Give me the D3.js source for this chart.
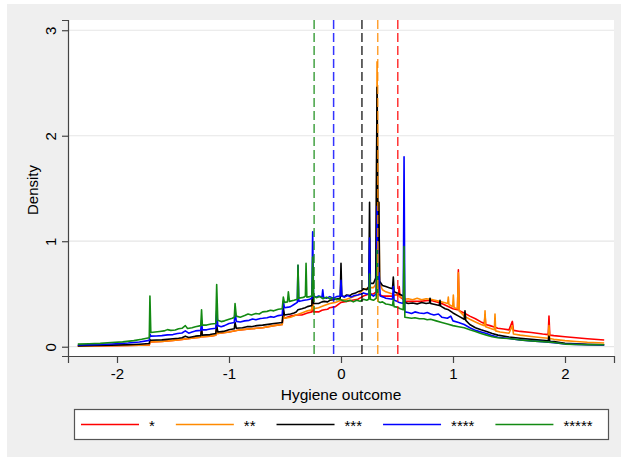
<!DOCTYPE html>
<html>
<head>
<meta charset="utf-8">
<script src="https://cdn.jsdelivr.net/npm/d3@7"></script>
<style>
  body { margin: 0; background: #ffffff; }
  text { font-family: Arial, "Liberation Sans", sans-serif; fill: #000; }
</style>
</head>
<body>
<div id="chart_area"></div>
<script>
var W = 621, H = 457;
var margin = { top: 20, right: 7, bottom: 101, left: 68 },
    width = W - margin.left - margin.right,
    height = H - margin.top - margin.bottom;

// series labels + colours (plot order)
var seriesNames = ["*", "**", "***", "****", "*****"];
var colours = ["#ff0000", "#ff8a00", "#000000", "#0000ff", "#138a13"];

// density curves, [x, density]
var red = [[-2.35,0.006],[-2.2,0.008],[-2.05,0.01],[-1.9,0.012],[-1.8,0.014],[-1.712,0.016],[-1.706,0.045],[-1.6,0.05],[-1.5,0.06],[-1.42,0.07],[-1.3,0.085],[-1.252,0.09],[-1.245,0.17],[-1.238,0.095],[-1.17,0.1],[-1.118,0.11],[-1.11,0.19],[-1.1,0.125],[-1.0,0.14],[-0.9,0.16],[-0.8,0.17],[-0.7,0.18],[-0.6,0.2],[-0.525,0.21],[-0.515,0.32],[-0.505,0.27],[-0.45,0.29],[-0.4,0.3],[-0.35,0.3],[-0.3,0.32],[-0.26,0.33],[-0.253,0.5],[-0.245,0.33],[-0.2,0.33],[-0.17,0.345],[-0.15,0.35],[-0.12,0.355],[-0.1,0.37],[-0.05,0.38],[0.0,0.42],[0.05,0.43],[0.1,0.44],[0.15,0.45],[0.2,0.48],[0.25,0.5],[0.29,0.5],[0.315,0.52],[0.322,0.8],[0.33,0.5],[0.37,0.48],[0.4,0.48],[0.46,0.48],[0.513,0.5],[0.52,0.57],[0.527,0.47],[0.556,0.45],[0.57,0.43],[0.62,0.43],[0.7,0.43],[0.8,0.44],[0.9,0.41],[1.0,0.36],[1.04,0.35],[1.048,0.73],[1.056,0.34],[1.1,0.32],[1.15,0.29],[1.2,0.265],[1.25,0.235],[1.28,0.22],[1.286,0.3],[1.292,0.21],[1.33,0.2],[1.375,0.185],[1.4,0.175],[1.45,0.168],[1.5,0.16],[1.53,0.24],[1.54,0.155],[1.6,0.145],[1.7,0.135],[1.8,0.12],[1.85,0.115],[1.857,0.29],[1.864,0.11],[1.9,0.105],[2.0,0.095],[2.1,0.085],[2.2,0.075],[2.35,0.063]];

var orange = [[-2.35,0.006],[-2.2,0.008],[-2.05,0.01],[-1.9,0.012],[-1.8,0.014],[-1.712,0.016],[-1.706,0.045],[-1.6,0.05],[-1.5,0.06],[-1.42,0.07],[-1.3,0.085],[-1.252,0.09],[-1.245,0.16],[-1.238,0.095],[-1.17,0.1],[-1.118,0.11],[-1.11,0.19],[-1.1,0.125],[-1.0,0.14],[-0.9,0.16],[-0.8,0.17],[-0.7,0.18],[-0.6,0.2],[-0.525,0.21],[-0.515,0.3],[-0.505,0.27],[-0.45,0.28],[-0.4,0.3],[-0.35,0.32],[-0.3,0.34],[-0.26,0.35],[-0.253,0.63],[-0.245,0.36],[-0.2,0.37],[-0.15,0.39],[-0.1,0.41],[-0.05,0.42],[0.0,0.44],[0.05,0.45],[0.1,0.47],[0.15,0.49],[0.2,0.54],[0.25,0.56],[0.29,0.56],[0.315,0.6],[0.322,2.7],[0.33,1.2],[0.338,1.37],[0.345,0.6],[0.37,0.54],[0.4,0.52],[0.46,0.5],[0.52,0.48],[0.556,0.46],[0.57,0.45],[0.6,0.455],[0.64,0.445],[0.68,0.46],[0.72,0.445],[0.76,0.455],[0.8,0.45],[0.84,0.44],[0.88,0.43],[0.92,0.42],[0.952,0.41],[0.958,0.47],[0.964,0.4],[0.997,0.38],[1.003,0.49],[1.01,0.37],[1.04,0.36],[1.048,0.7],[1.056,0.34],[1.1,0.29],[1.15,0.26],[1.2,0.235],[1.25,0.21],[1.28,0.2],[1.286,0.34],[1.292,0.19],[1.33,0.175],[1.369,0.16],[1.375,0.31],[1.381,0.15],[1.42,0.14],[1.5,0.128],[1.53,0.2],[1.54,0.12],[1.6,0.11],[1.7,0.097],[1.8,0.085],[1.85,0.08],[1.857,0.2],[1.864,0.078],[1.9,0.07],[2.0,0.058],[2.1,0.05],[2.2,0.042],[2.35,0.035]];

var black = [[-2.35,0.008],[-2.2,0.011],[-2.05,0.015],[-1.9,0.019],[-1.8,0.024],[-1.712,0.03],[-1.706,0.065],[-1.698,0.062],[-1.6,0.065],[-1.5,0.075],[-1.45,0.08],[-1.42,0.085],[-1.39,0.1],[-1.36,0.088],[-1.3,0.1],[-1.252,0.105],[-1.245,0.17],[-1.238,0.11],[-1.17,0.115],[-1.118,0.125],[-1.11,0.2],[-1.1,0.14],[-1.05,0.145],[-1.0,0.16],[-0.953,0.17],[-0.946,0.23],[-0.935,0.175],[-0.88,0.18],[-0.84,0.19],[-0.8,0.19],[-0.75,0.2],[-0.7,0.205],[-0.65,0.212],[-0.6,0.22],[-0.56,0.225],[-0.525,0.23],[-0.515,0.37],[-0.505,0.3],[-0.45,0.31],[-0.42,0.32],[-0.4,0.33],[-0.384,0.35],[-0.35,0.36],[-0.32,0.37],[-0.3,0.38],[-0.26,0.39],[-0.253,0.6],[-0.245,0.41],[-0.2,0.41],[-0.17,0.425],[-0.15,0.43],[-0.12,0.425],[-0.1,0.44],[-0.07,0.445],[-0.05,0.45],[-0.007,0.46],[0.0,0.79],[0.007,0.48],[0.03,0.475],[0.05,0.49],[0.08,0.485],[0.1,0.5],[0.13,0.51],[0.15,0.52],[0.18,0.53],[0.2,0.55],[0.23,0.54],[0.248,0.57],[0.255,1.37],[0.262,0.6],[0.29,0.6],[0.31,0.65],[0.322,2.46],[0.33,1.0],[0.338,1.37],[0.345,0.62],[0.37,0.58],[0.4,0.57],[0.43,0.56],[0.46,0.55],[0.467,0.66],[0.474,0.52],[0.5,0.51],[0.52,0.5],[0.556,0.48],[0.563,0.5],[0.57,0.42],[0.6,0.41],[0.64,0.415],[0.68,0.405],[0.72,0.42],[0.76,0.41],[0.79,0.415],[0.795,0.46],[0.8,0.41],[0.84,0.4],[0.878,0.39],[0.884,0.44],[0.89,0.385],[0.93,0.36],[0.96,0.35],[1.0,0.32],[1.05,0.29],[1.1,0.26],[1.107,0.34],[1.114,0.25],[1.15,0.21],[1.2,0.18],[1.25,0.16],[1.3,0.145],[1.35,0.125],[1.4,0.11],[1.5,0.092],[1.6,0.08],[1.7,0.07],[1.8,0.06],[1.85,0.055],[1.857,0.1],[1.864,0.052],[1.9,0.048],[2.0,0.033],[2.1,0.027],[2.2,0.022],[2.35,0.017]];

var blue = [[-2.35,0.016],[-2.2,0.02],[-2.05,0.026],[-1.9,0.035],[-1.8,0.045],[-1.712,0.06],[-1.706,0.12],[-1.698,0.1],[-1.65,0.102],[-1.6,0.105],[-1.55,0.112],[-1.5,0.115],[-1.46,0.125],[-1.42,0.13],[-1.39,0.15],[-1.36,0.128],[-1.33,0.14],[-1.3,0.15],[-1.252,0.155],[-1.245,0.25],[-1.238,0.16],[-1.2,0.16],[-1.17,0.168],[-1.118,0.175],[-1.11,0.34],[-1.1,0.2],[-1.07,0.19],[-1.04,0.2],[-1.0,0.22],[-0.953,0.23],[-0.946,0.34],[-0.935,0.24],[-0.9,0.235],[-0.86,0.245],[-0.82,0.25],[-0.79,0.262],[-0.76,0.255],[-0.72,0.268],[-0.7,0.27],[-0.66,0.275],[-0.63,0.285],[-0.6,0.28],[-0.56,0.295],[-0.525,0.3],[-0.515,0.43],[-0.505,0.37],[-0.47,0.375],[-0.45,0.38],[-0.42,0.4],[-0.39,0.42],[-0.384,0.77],[-0.377,0.43],[-0.35,0.435],[-0.33,0.44],[-0.3,0.445],[-0.28,0.45],[-0.26,0.46],[-0.253,1.09],[-0.245,0.48],[-0.22,0.47],[-0.2,0.48],[-0.17,0.47],[-0.163,0.54],[-0.156,0.47],[-0.13,0.46],[-0.1,0.475],[-0.07,0.46],[-0.04,0.475],[-0.007,0.48],[0.0,0.63],[0.007,0.48],[0.03,0.47],[0.06,0.485],[0.09,0.47],[0.12,0.485],[0.15,0.49],[0.18,0.5],[0.2,0.51],[0.23,0.5],[0.248,0.5],[0.255,1.03],[0.262,0.5],[0.29,0.48],[0.315,0.5],[0.322,1.33],[0.33,0.55],[0.34,0.7],[0.35,0.48],[0.38,0.47],[0.4,0.46],[0.43,0.455],[0.46,0.45],[0.467,0.57],[0.474,0.44],[0.5,0.43],[0.52,0.42],[0.556,0.41],[0.563,1.8],[0.57,0.33],[0.6,0.325],[0.63,0.315],[0.66,0.33],[0.7,0.32],[0.74,0.315],[0.77,0.325],[0.8,0.31],[0.83,0.3],[0.87,0.31],[0.9,0.28],[0.95,0.27],[0.98,0.29],[1.0,0.245],[1.05,0.23],[1.1,0.21],[1.15,0.18],[1.2,0.155],[1.25,0.14],[1.3,0.125],[1.35,0.105],[1.4,0.09],[1.5,0.078],[1.6,0.065],[1.7,0.055],[1.8,0.048],[1.9,0.038],[2.0,0.026],[2.1,0.022],[2.2,0.019],[2.35,0.016]];

var green = [[-2.35,0.025],[-2.25,0.028],[-2.15,0.032],[-2.05,0.04],[-1.95,0.046],[-1.85,0.058],[-1.78,0.07],[-1.712,0.085],[-1.706,0.48],[-1.698,0.135],[-1.66,0.14],[-1.62,0.145],[-1.58,0.15],[-1.55,0.162],[-1.52,0.155],[-1.48,0.158],[-1.45,0.17],[-1.42,0.175],[-1.39,0.2],[-1.37,0.172],[-1.33,0.18],[-1.3,0.19],[-1.252,0.2],[-1.245,0.35],[-1.238,0.205],[-1.2,0.205],[-1.16,0.215],[-1.118,0.22],[-1.11,0.59],[-1.1,0.25],[-1.07,0.238],[-1.04,0.245],[-1.0,0.26],[-0.97,0.27],[-0.953,0.28],[-0.946,0.41],[-0.935,0.29],[-0.9,0.28],[-0.86,0.295],[-0.83,0.31],[-0.8,0.3],[-0.76,0.315],[-0.73,0.31],[-0.7,0.33],[-0.66,0.335],[-0.63,0.345],[-0.6,0.34],[-0.56,0.355],[-0.525,0.36],[-0.515,0.47],[-0.505,0.42],[-0.478,0.425],[-0.47,0.52],[-0.46,0.43],[-0.42,0.44],[-0.39,0.45],[-0.384,0.775],[-0.377,0.46],[-0.35,0.465],[-0.33,0.47],[-0.318,0.48],[-0.312,0.79],[-0.305,0.47],[-0.28,0.475],[-0.26,0.48],[-0.253,0.85],[-0.245,0.48],[-0.22,0.465],[-0.19,0.475],[-0.16,0.455],[-0.13,0.47],[-0.1,0.455],[-0.07,0.465],[-0.04,0.445],[-0.01,0.45],[0.02,0.435],[0.05,0.43],[0.08,0.44],[0.11,0.425],[0.14,0.44],[0.17,0.43],[0.2,0.45],[0.23,0.44],[0.248,0.45],[0.255,0.69],[0.262,0.45],[0.29,0.44],[0.315,0.46],[0.322,0.92],[0.33,0.43],[0.35,0.42],[0.37,0.425],[0.4,0.405],[0.43,0.4],[0.46,0.39],[0.467,0.45],[0.474,0.38],[0.5,0.375],[0.53,0.36],[0.556,0.35],[0.563,0.95],[0.57,0.28],[0.6,0.275],[0.63,0.27],[0.66,0.275],[0.7,0.265],[0.74,0.265],[0.77,0.255],[0.8,0.26],[0.85,0.245],[0.9,0.23],[0.95,0.215],[1.0,0.2],[1.05,0.19],[1.1,0.18],[1.15,0.16],[1.2,0.145],[1.25,0.125],[1.3,0.11],[1.35,0.095],[1.4,0.085],[1.45,0.08],[1.5,0.078],[1.6,0.065],[1.7,0.055],[1.8,0.048],[1.9,0.04],[2.0,0.025],[2.1,0.021],[2.2,0.019],[2.35,0.018]];

// vertical reference lines (means), same order as series
var meanLines = [0.507, 0.328, 0.187, -0.066, -0.24];

var xTicks = [-2, -1, 0, 1, 2];
var yTicks = [0, 1, 2, 3];

var allSeries = [red, orange, black, blue, green];

var svg = d3.select("#chart_area")
    .append("svg")
    .attr("width", W)
    .attr("height", H);

// grey graph region
svg.append("rect")
    .attr("x", 7).attr("y", 4)
    .attr("width", W - 7).attr("height", H - 4)
    .attr("fill", "#efefef");

var g = svg.append("g")
    .attr("transform", "translate(" + margin.left + "," + margin.top + ")");

// plot region
g.append("rect")
    .attr("width", width).attr("height", height)
    .attr("fill", "#ffffff");

var x = d3.scaleLinear()
    .domain([-2.4375, 2.4375])
    .range([0, width]);

var y = d3.scaleLinear()
    .domain([-0.088, 3.097])
    .range([height, 0]);

// gridlines
g.selectAll(".grid")
    .data(yTicks)
    .enter()
    .append("line")
    .attr("x1", 0).attr("x2", width)
    .attr("y1", function (d) { return y(d); })
    .attr("y2", function (d) { return y(d); })
    .attr("stroke", "#e6e6e6")
    .attr("stroke-width", 1.2);

// density lines
var line = d3.line()
    .x(function (d) { return x(d[0]); })
    .y(function (d) { return y(d[1]); });

g.selectAll(".dens")
    .data(allSeries)
    .enter()
    .append("path")
    .attr("d", line)
    .attr("fill", "none")
    .attr("stroke", function (d, i) { return colours[i]; })
    .attr("stroke-width", 1.6)
    .attr("stroke-linejoin", "round");

// dashed mean lines
g.selectAll(".mean")
    .data(meanLines)
    .enter()
    .append("line")
    .attr("x1", function (d) { return x(d); })
    .attr("x2", function (d) { return x(d); })
    .attr("y1", 0).attr("y2", height)
    .attr("stroke", function (d, i) { return colours[i]; })
    .attr("stroke-opacity", 0.8)
    .attr("stroke-width", 1.5)
    .attr("stroke-dasharray", "9,4");

// X axis
var xAxis = g.append("g")
    .attr("transform", "translate(0," + height + ")")
    .call(d3.axisBottom(x).tickValues(xTicks).tickSize(7).tickPadding(5)
        .tickFormat(d3.format("d")));
xAxis.select(".domain").attr("stroke", "#444").attr("stroke-width", 1.2);
xAxis.selectAll(".tick line").attr("stroke", "#444").attr("stroke-width", 1.2);
xAxis.selectAll("text")
    .style("font-size", "15px")
    .style("font-family", "Arial, 'Liberation Sans', sans-serif")
    .attr("fill", "#000")
    .text(function (d) { return d < 0 ? "-" + Math.abs(d) : d; });

// Y axis
var yAxis = g.append("g")
    .call(d3.axisLeft(y).tickValues(yTicks).tickSize(6).tickPadding(0)
        .tickFormat(d3.format("d")));
yAxis.select(".domain").attr("stroke", "#444").attr("stroke-width", 1.2);
yAxis.selectAll(".tick line").attr("stroke", "#444").attr("stroke-width", 1.2);
yAxis.selectAll("text")
    .style("font-size", "15px")
    .style("font-family", "Arial, 'Liberation Sans', sans-serif")
    .attr("fill", "#000")
    .attr("x", 0).attr("dy", 0)
    .attr("text-anchor", "middle")
    .attr("transform", "translate(-12,0) rotate(-90)");

// axis titles
svg.append("text")
    .attr("x", margin.left + x(0))
    .attr("y", 400)
    .attr("text-anchor", "middle")
    .style("font-size", "15.5px")
    .text("Hygiene outcome");

svg.append("text")
    .attr("transform", "translate(38," + (margin.top + height / 2 + 2) + ") rotate(-90)")
    .attr("text-anchor", "middle")
    .style("font-size", "15px")
    .text("Density");

// legend
var legend = svg.append("g");
legend.append("rect")
    .attr("x", 74.5).attr("y", 409.5)
    .attr("width", 534).attr("height", 30)
    .attr("fill", "#ffffff")
    .attr("stroke", "#555")
    .attr("stroke-width", 1.2);

var lx = 81;
seriesNames.forEach(function (name, i) {
    legend.append("line")
        .attr("x1", lx).attr("x2", lx + 58)
        .attr("y1", 424.5).attr("y2", 424.5)
        .attr("stroke", colours[i])
        .attr("stroke-width", 1.6);
    var t = legend.append("text")
        .attr("x", lx + 68)
        .attr("y", 431)
        .style("font-size", "15px")
        .text(name);
    lx = lx + 68 + t.node().getComputedTextLength() + 21;
});
</script>
</body>
</html>
